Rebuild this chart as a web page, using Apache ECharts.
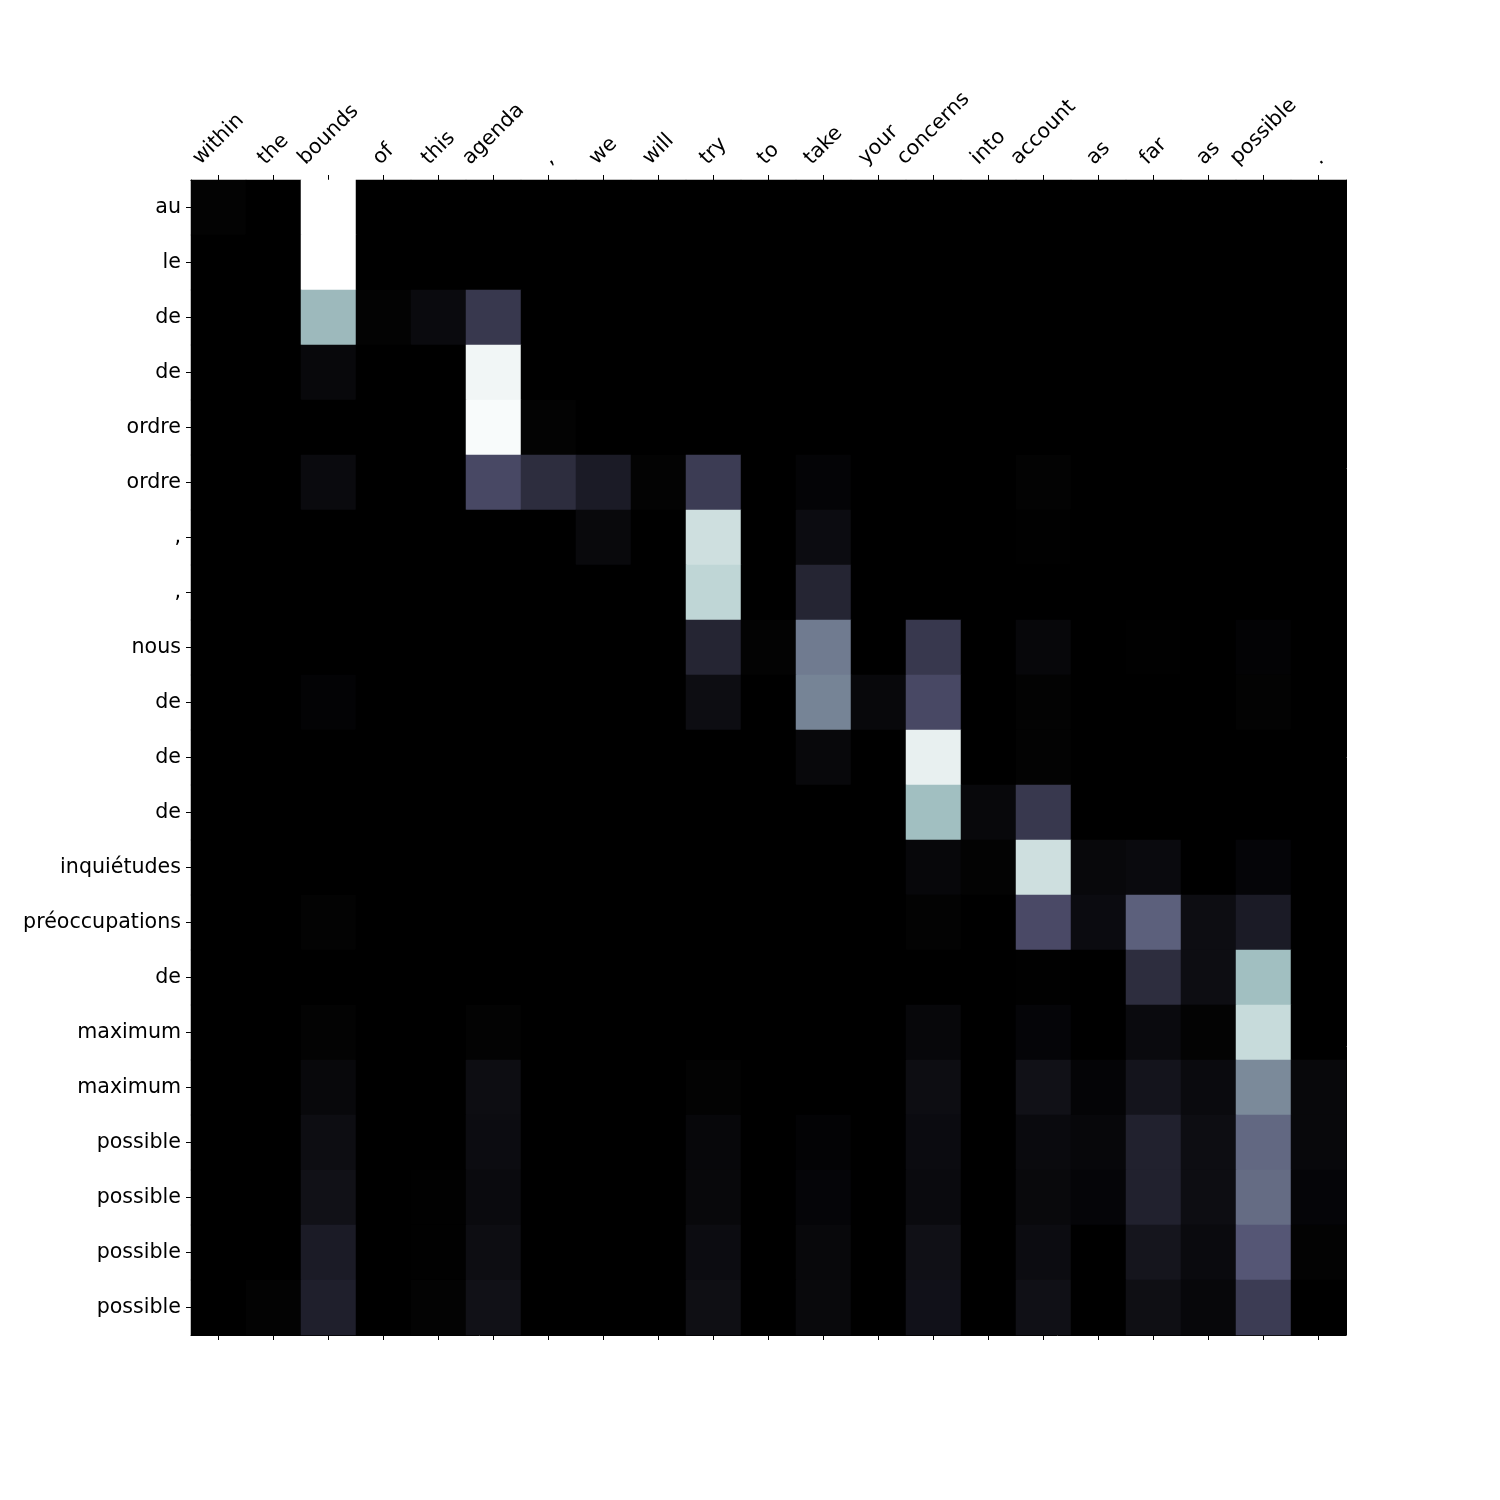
<!DOCTYPE html>
<html>
<head>
<meta charset="utf-8">
<script src="https://cdn.jsdelivr.net/npm/echarts@6/dist/echarts.min.js"></script>
<style>
html,body{margin:0;padding:0;background:#fff;}
#chart{width:1500px;height:1500px;}
</style>
</head>
<body>
<div id="chart"></div>
<script>
const xLabels = ["within","the","bounds","of","this","agenda",",","we","will","try","to","take","your","concerns","into","account","as","far","as","possible","."];
const yLabels = ["au","le","de","de","ordre","ordre",",",",","nous","de","de","de","inquiétudes","préoccupations","de","maximum","maximum","possible","possible","possible","possible"];

// attention weights, one row per target word (yLabels), one column per source word (xLabels)
const attention = [
  [0.01,0,1.0,0,0,0,0,0,0,0,0,0,0,0,0,0,0,0,0,0,0],
  [0,0,1.0,0,0,0,0,0,0,0,0,0,0,0,0,0,0,0,0,0,0],
  [0,0,0.70,0.01,0.045,0.25,0,0,0,0,0,0,0,0,0,0,0,0,0,0,0],
  [0,0,0.035,0,0,0.96,0,0,0,0,0,0,0,0,0,0,0,0,0,0,0],
  [0,0,0,0,0,0.98,0.01,0,0,0,0,0,0,0,0,0,0,0,0,0,0],
  [0,0,0.045,0,0,0.32,0.2,0.12,0.01,0.27,0,0.02,0,0,0,0.01,0,0,0,0,0],
  [0,0,0,0,0,0,0,0.04,0,0.86,0,0.055,0,0,0,0.005,0,0,0,0,0],
  [0,0,0,0,0,0,0,0,0,0.815,0,0.165,0,0,0,0,0,0,0,0,0],
  [0,0,0,0,0,0,0,0,0,0.165,0.01,0.50,0,0.25,0,0.03,0,0.005,0,0.015,0],
  [0,0,0.015,0,0,0,0,0,0,0.06,0,0.53,0.035,0.32,0,0.01,0,0,0,0.01,0],
  [0,0,0,0,0,0,0,0,0,0,0,0.035,0,0.935,0,0.01,0,0,0,0,0],
  [0,0,0,0,0,0,0,0,0,0,0,0,0,0.72,0.035,0.25,0,0,0,0,0],
  [0,0,0,0,0,0,0,0,0,0,0,0,0,0.03,0.01,0.86,0.035,0.045,0,0.025,0],
  [0,0,0.01,0,0,0,0,0,0,0,0,0,0,0.01,0,0.33,0.05,0.41,0.06,0.12,0],
  [0,0,0,0,0,0,0,0,0,0,0,0,0,0,0,0.005,0,0.2,0.06,0.72,0],
  [0,0,0.01,0,0,0.01,0,0,0,0,0,0,0,0.03,0,0.025,0,0.045,0.01,0.84,0],
  [0,0,0.035,0,0,0.06,0,0,0,0.01,0,0,0,0.06,0,0.075,0.02,0.09,0.045,0.55,0.035],
  [0,0,0.06,0,0,0.055,0,0,0,0.03,0,0.015,0,0.05,0,0.045,0.03,0.15,0.06,0.44,0.035],
  [0,0,0.075,0,0.005,0.045,0,0,0,0.035,0,0.025,0,0.045,0,0.04,0.025,0.15,0.06,0.45,0.025],
  [0,0,0.12,0,0.005,0.06,0,0,0,0.055,0,0.035,0,0.07,0,0.055,0,0.095,0.045,0.38,0.01],
  [0,0.01,0.14,0,0.01,0.075,0,0,0,0.065,0,0.04,0,0.08,0,0.07,0,0.065,0.03,0.27,0]
];

// matplotlib "bone" colormap
function bone(t){
  const r = t < 0.746032 ? 0.652778*t/0.746032 : 0.652778 + (1-0.652778)*(t-0.746032)/(1-0.746032);
  const g = t < 0.365079 ? 0.319444*t/0.365079 :
            t < 0.746032 ? 0.319444 + (0.777778-0.319444)*(t-0.365079)/(0.746032-0.365079) :
            0.777778 + (1-0.777778)*(t-0.746032)/(1-0.746032);
  const b = t < 0.365079 ? 0.444444*t/0.365079 : 0.444444 + (1-0.444444)*(t-0.365079)/(1-0.365079);
  const h = v => Math.round(v*255).toString(16).padStart(2,'0');
  return '#' + h(r) + h(g) + h(b);
}
const boneColors = [];
for (let i = 0; i <= 255; i++) boneColors.push(bone(i/255));

const cells = [];
attention.forEach((row, yi) => row.forEach((v, xi) => cells.push([xi, yi, v])));

const FONT = '"DejaVu Sans", sans-serif';
const FS = 20.6;
const chart = echarts.init(document.getElementById('chart'), null, {renderer: 'canvas'});
const GRID = {left: 191, top: 180, width: 1155, height: 1155};

const tickStyle = {show: true, interval: 0, alignWithLabel: true, length: 5, lineStyle: {color: '#000', width: 1}};

chart.setOption({
  backgroundColor: '#ffffff',
  animation: false,
  grid: GRID,
  xAxis: [
    {
      type: 'category', data: xLabels, position: 'top',
      axisLine: {show: true, lineStyle: {color: '#000', width: 1}},
      axisTick: tickStyle,
      axisLabel: {show: false, interval: 0},
      splitLine: {show: false}
    },
    {
      type: 'category', data: xLabels, position: 'bottom',
      axisLine: {show: true, lineStyle: {color: '#000', width: 1}},
      axisTick: tickStyle,
      axisLabel: {show: false, interval: 0},
      splitLine: {show: false}
    }
  ],
  yAxis: [
    {
      type: 'category', data: yLabels, inverse: true, position: 'left',
      axisLine: {show: true, lineStyle: {color: '#000', width: 1}},
      axisTick: tickStyle,
      axisLabel: {show: true, interval: 0, margin: 10, color: '#000', fontSize: FS, fontFamily: FONT, padding: [4, 0, 0, 0]},
      splitLine: {show: false}
    },
    {
      type: 'category', data: yLabels, inverse: true, position: 'right',
      axisLine: {show: true, lineStyle: {color: '#000', width: 1}},
      axisTick: {show: false}, axisLabel: {show: false}, splitLine: {show: false}
    }
  ],
  visualMap: {
    show: false, type: 'continuous', min: 0, max: 1, dimension: 2,
    inRange: {color: boneColors}
  },
  series: [{
    type: 'heatmap', data: cells, xAxisIndex: 0, yAxisIndex: 0,
    itemStyle: {borderWidth: 0},
    emphasis: {disabled: true}
  }]
});

// Top labels rotated 45°, bounding box centred on each tick (matplotlib style)
const ctx = document.createElement('canvas').getContext('2d');
ctx.font = FS + 'px ' + FONT;
const lineH = FS * 1.164;
const gap = 10;
const graphics = xLabels.map((lab, i) => {
  const px = chart.convertToPixel({xAxisIndex: 0}, i);
  const L = ctx.measureText(lab).width;
  const W = (L + lineH) / Math.SQRT2;
  return {
    type: 'text',
    x: px,
    y: GRID.top - gap - W / 2,
    rotation: Math.PI / 4,
    style: {text: lab, font: FS + 'px ' + FONT, fill: '#000', align: 'center', verticalAlign: 'middle'}
  };
});
chart.setOption({graphic: graphics});
</script>
</body>
</html>
